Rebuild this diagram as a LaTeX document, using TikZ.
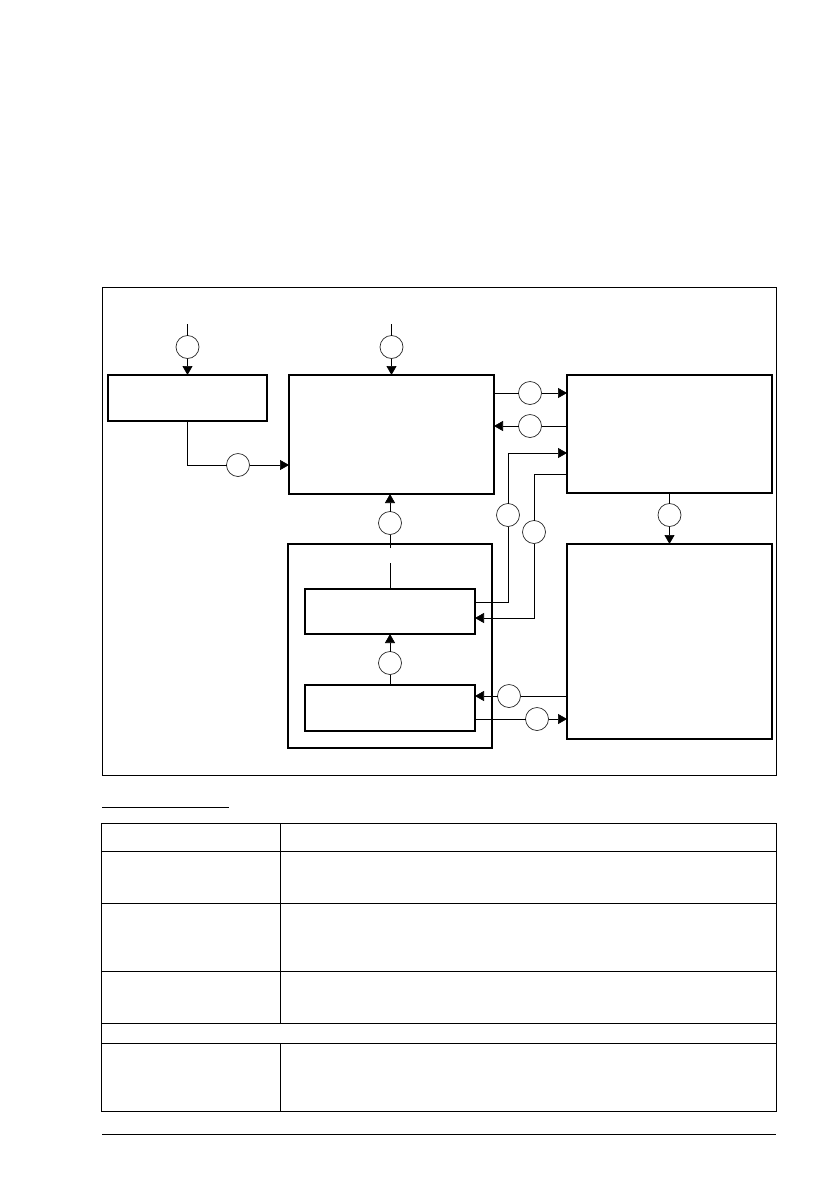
\documentclass[tikz,border=0pt]{standalone}
\usepackage{tikz}
\usetikzlibrary{arrows.meta,calc}
\tikzset{kasten/.style={draw,line width=1.6pt,inner sep=0,outer sep=0},
  kreis/.style={circle,draw=black!85,line width=0.7pt,minimum size=23pt,inner sep=0,outer sep=0},
  pfeil/.style={line width=0.7pt,-{Triangle[length=9pt,width=10pt]}},
  linie/.style={line width=0.7pt},
  tabellenlinie/.style={line width=1pt}}

\begin{document}
\begin{tikzpicture}[x=1pt,y=-1pt]
\useasboundingbox (0,0) rectangle (838,1192);
% Rahmen
\draw[line width=0.8pt] (102,287) rectangle (776,775);
% Kaesten
\node[kasten,minimum width=159pt,minimum height=46pt] (A) at (187.5,398) {};
\node[kasten,minimum width=205pt,minimum height=119pt] (B) at (391.5,434.5) {};
\node[kasten,minimum width=205pt,minimum height=118pt] (C) at (669.5,434) {};
\node[kasten,minimum width=205pt,minimum height=195pt] (D) at (669.5,641.5) {};
\node[kasten,minimum width=204pt,minimum height=204pt] (E) at (390,646) {};
\node[kasten,minimum width=170pt,minimum height=45pt] (F) at (390,611.5) {};
\node[kasten,minimum width=170pt,minimum height=46pt] (G) at (390,708) {};
% Kreise
\node[kreis] (k1) at (187.5,347) {};
\node[kreis] (k2) at (391.5,347) {};
\node[kreis] (k3) at (238,465) {};
\node[kreis] (k4) at (530,393) {};
\node[kreis] (k5) at (530,426) {};
\node[kreis] (k6) at (508,515) {};
\node[kreis] (k7) at (534,532) {};
\node[kreis] (k8) at (669.5,515) {};
\node[kreis] (k9) at (390,523) {};
\node[kreis] (k10) at (390,663) {};
\node[kreis] (k11) at (509,696) {};
\node[kreis] (k12) at (537,719) {};
\coordinate (einA) at (187.5,324);
\coordinate (einB) at (391.5,324);
% Verbindungen
\draw[pfeil] (einA) -- (k1) -- (k1 |- A.north);
\draw[pfeil] (einB) -- (k2) -- (k2 |- B.north);
\draw[linie] (A.south) |- (k3);
\draw[pfeil] (k3) -- (k3 -| B.west);
\draw[linie] (B.east |- k4) -- (k4);
\draw[pfeil] (k4) -- (k4 -| C.west);
\draw[linie] (C.west |- k5) -- (k5);
\draw[pfeil] (k5) -- (k5 -| B.east);
\draw[linie] (F.east |- 0,602) -| (k6);
\draw[pfeil] (k6) |- (C.west |- 0,453);
\draw[linie] (C.west |- 0,474) -| (k7);
\draw[pfeil] (k7) |- (F.east |- 0,618);
\draw[linie] (C.south -| k8) -- (k8);
\draw[pfeil] (k8) -- (k8 |- D.north);
\draw[linie] (F.north) -- ++(0,-26);
\draw[linie] (k9 |- 0,548) -- (k9);
\draw[pfeil] (k9) -- (k9 |- B.south);
\draw[linie] (G.north) -- (k10);
\draw[pfeil] (k10) -- (F.south);
\draw[linie] (D.west |- k11) -- (k11);
\draw[pfeil] (k11) -- (k11 -| G.east);
\draw[linie] (G.east |- k12) -- (k12);
\draw[pfeil] (k12) -- (k12 -| D.west);
% Tabelle
\draw[tabellenlinie] (102,807) -- (229,807);
\draw[tabellenlinie] (101,823) rectangle (776,1111);
\foreach \y in {851,903,971,1023,1043}
  \draw[tabellenlinie] (101,\y) -- (776,\y);
\draw[tabellenlinie] (280,823) -- (280,1023) (280,1043) -- (280,1111);
\draw[tabellenlinie] (102,1134) -- (776,1134);
\end{tikzpicture}
\end{document}
